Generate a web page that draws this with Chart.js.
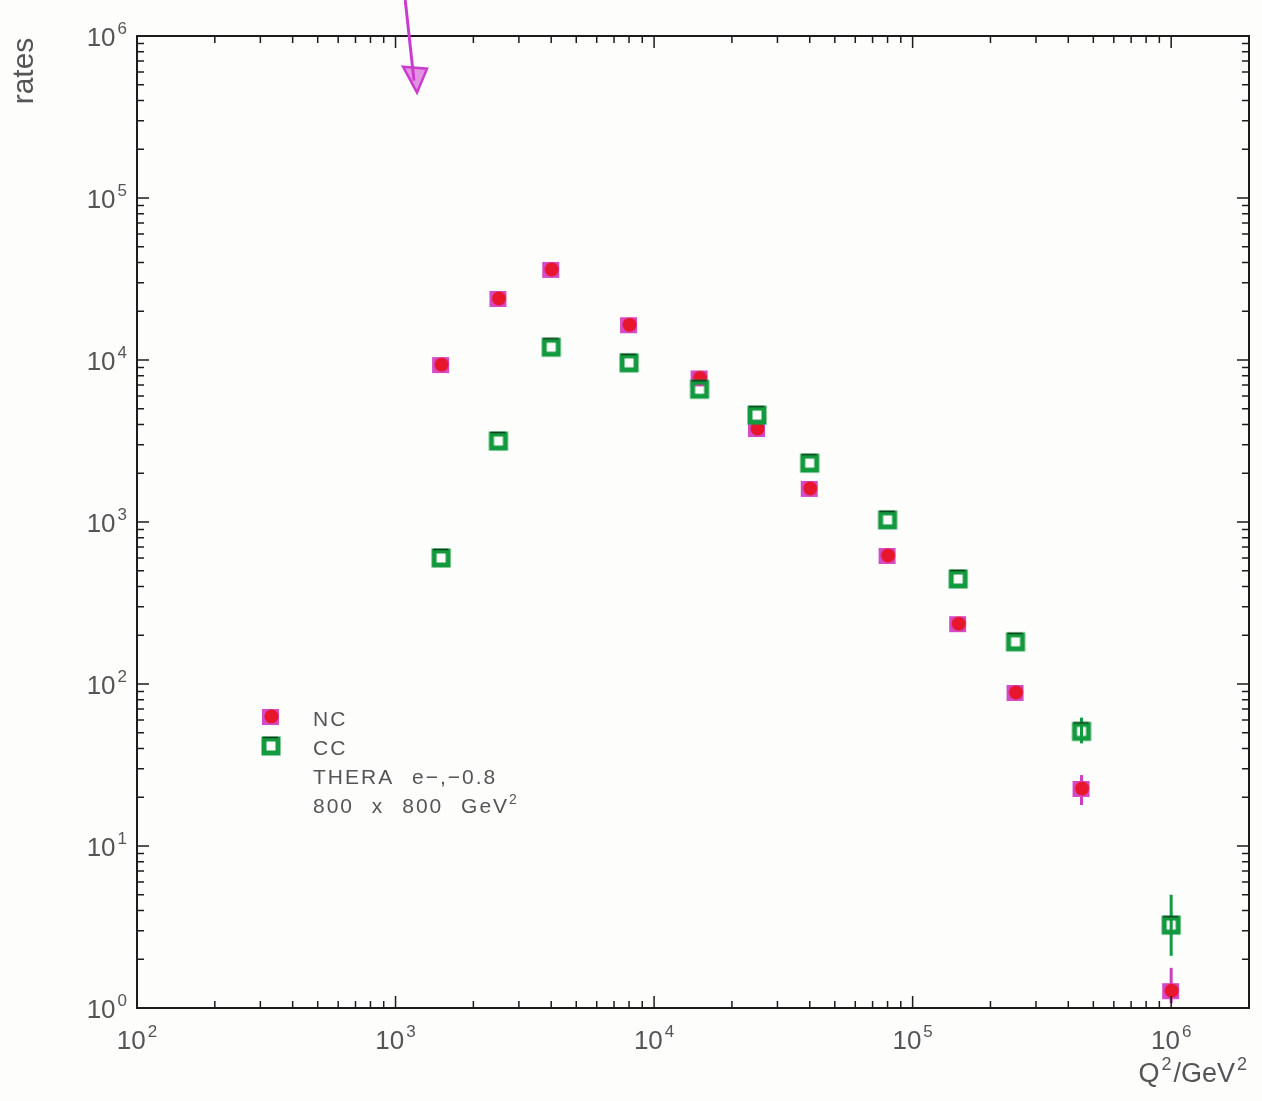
<!DOCTYPE html>
<html>
<head>
<meta charset="utf-8">
<script src="https://cdn.jsdelivr.net/npm/chart.js@4.4.0/dist/chart.umd.min.js"></script>
<style>
  html, body { margin: 0; padding: 0; background: #fdfdfc; }
  canvas { display: block; }
</style>
</head>
<body>
<canvas id="ratesChart" width="1262" height="1101"></canvas>
<script>
// Q^2 bins (GeV^2) and event rates
const q2 = [1500, 2500, 4000, 8000, 15000, 25000, 40000, 80000, 150000, 250000, 450000, 1000000];
const ncRates = [9300, 23800, 36000, 16400, 7700, 3750, 1600, 617, 234, 88, 22.5, 1.27];
const ccRates = [600, 3160, 12000, 9600, 6600, 4570, 2310, 1030, 445, 182, 51, 3.25];

// error bars (only the last points show them)
const ncErrLow  = [null, null, null, null, null, null, null, null, null, null, 17.9, 1.07];
const ncErrHigh = [null, null, null, null, null, null, null, null, null, null, 27.4, 1.77];
const ccErrLow  = [null, null, null, null, null, null, null, null, null, null, 43, 2.1];
const ccErrHigh = [null, null, null, null, null, null, null, null, null, null, 62, 5.0];

// axis decades (exponents of ten)
const xDecades = [2, 3, 4, 5, 6];
const yDecades = [0, 1, 2, 3, 4, 5, 6];

const legendLines = ['NC', 'CC', 'THERA e\u2212,\u22120.8', '800 x 800 GeV'];

const textColor = '#555';
const fontName = '"Liberation Sans", Arial, sans-serif';

// hand-drawn-ish markers as little canvases
function makeNcMarker() {
    const c = document.createElement('canvas');
    c.width = 22; c.height = 22;
    const g = c.getContext('2d');
    g.fillStyle = '#d64ac6';
    g.fillRect(2, 3, 17, 16);
    g.fillStyle = '#e8162c';
    g.beginPath();
    g.arc(11.5, 10.5, 7, 0, Math.PI * 2);
    g.fill();
    return c;
}
function makeCcMarker() {
    const c = document.createElement('canvas');
    c.width = 24; c.height = 24;
    const g = c.getContext('2d');
    g.strokeStyle = '#139a3e';
    g.lineWidth = 5;
    g.strokeRect(5, 5, 14, 14);
    g.strokeStyle = '#0b3f1c';
    g.lineWidth = 1.5;
    g.beginPath();
    g.moveTo(4, 3.5); g.lineTo(19, 3.5);
    g.stroke();
    return c;
}
const ncMarker = makeNcMarker();
const ccMarker = makeCcMarker();

function toPoints(xs, ys) {
    return xs.map((x, i) => ({ x: x, y: ys[i] }));
}

// draws "10" with a raised exponent
function drawPower(ctx, exp, x, baseline, align) {
    ctx.font = '26px ' + fontName;
    const wBase = ctx.measureText('10').width;
    ctx.font = '17px ' + fontName;
    const wExp = ctx.measureText(String(exp)).width;
    const total = wBase + 2 + wExp;
    let left = x;
    if (align === 'center') left = x - total / 2;
    if (align === 'right') left = x - total;
    ctx.textAlign = 'left';
    ctx.textBaseline = 'alphabetic';
    ctx.fillStyle = textColor;
    ctx.font = '26px ' + fontName;
    ctx.fillText('10', left, baseline);
    ctx.font = '17px ' + fontName;
    ctx.fillText(String(exp), left + wBase + 2, baseline - 12);
}

const framePlugin = {
    id: 'frame',
    beforeDatasetsDraw(chart) {
        const ctx = chart.ctx;
        const xs = chart.scales.x, ys = chart.scales.y;
        ctx.save();
        const bars = [
            [ncErrLow, ncErrHigh, '#cc3fc0'],
            [ccErrLow, ccErrHigh, '#149a3e']
        ];
        bars.forEach(([lo, hi, col]) => {
            q2.forEach((q, i) => {
                if (lo[i] == null) return;
                const px = xs.getPixelForValue(q);
                ctx.strokeStyle = col;
                ctx.lineWidth = 3;
                ctx.beginPath();
                ctx.moveTo(px, ys.getPixelForValue(lo[i]));
                ctx.lineTo(px, ys.getPixelForValue(hi[i]));
                ctx.stroke();
            });
        });
        ctx.restore();
    },
    afterDraw(chart) {
        const ctx = chart.ctx;
        const a = chart.chartArea;
        const xs = chart.scales.x, ys = chart.scales.y;
        ctx.save();

        // frame
        ctx.strokeStyle = '#1c1c1c';
        ctx.lineWidth = 2;
        ctx.strokeRect(a.left, a.top, a.right - a.left, a.bottom - a.top);

        // inward ticks on all four sides
        ctx.lineWidth = 1.5;
        const major = 12, minor = 7;
        xDecades.forEach(e => {
            for (let m = 1; m <= 9; m++) {
                const v = m * Math.pow(10, e);
                if (v > xs.max) break;
                const px = xs.getPixelForValue(v);
                const len = m === 1 ? major : minor;
                ctx.beginPath();
                ctx.moveTo(px, a.bottom); ctx.lineTo(px, a.bottom - len);
                ctx.moveTo(px, a.top); ctx.lineTo(px, a.top + len);
                ctx.stroke();
            }
        });
        yDecades.forEach(e => {
            for (let m = 1; m <= 9; m++) {
                const v = m * Math.pow(10, e);
                if (v > ys.max) break;
                const py = ys.getPixelForValue(v);
                const len = m === 1 ? major : minor;
                ctx.beginPath();
                ctx.moveTo(a.left, py); ctx.lineTo(a.left + len, py);
                ctx.moveTo(a.right, py); ctx.lineTo(a.right - len, py);
                ctx.stroke();
            }
        });

        // tick labels
        xDecades.forEach(e => {
            drawPower(ctx, e, xs.getPixelForValue(Math.pow(10, e)), a.bottom + 41, 'center');
        });
        yDecades.forEach(e => {
            drawPower(ctx, e, a.left - 10, ys.getPixelForValue(Math.pow(10, e)) + 10, 'right');
        });

        // axis titles
        ctx.fillStyle = textColor;
        ctx.font = '30px ' + fontName;
        ctx.save();
        ctx.translate(33, a.top + 35);
        ctx.rotate(-Math.PI / 2);
        ctx.textAlign = 'center';
        ctx.textBaseline = 'alphabetic';
        ctx.fillText('rates', 0, 0);
        ctx.restore();

        const big = '27px ' + fontName, small = '18px ' + fontName;
        const parts = [['Q', big, 0], ['2', small, -12], ['/GeV', big, 0], ['2', small, -12]];
        let total = 0;
        parts.forEach(p => { ctx.font = p[1]; total += ctx.measureText(p[0]).width + 2; });
        let tx = a.right - total;
        ctx.textAlign = 'left';
        parts.forEach(p => {
            ctx.font = p[1];
            ctx.fillText(p[0], tx, a.bottom + 74 + p[2]);
            tx += ctx.measureText(p[0]).width + 2;
        });

        // legend inside the frame
        const lx = a.left + 134, ly = a.top + 681, step = 29;
        ctx.drawImage(ncMarker, lx - 11, ly - 11);
        ctx.drawImage(ccMarker, lx - 12, ly + step - 12);
        ctx.font = '21px ' + fontName;
        ctx.letterSpacing = '2px';
        ctx.wordSpacing = '10px';
        legendLines.forEach((t, i) => {
            ctx.fillText(t, a.left + 176, ly + 9 + i * step);
        });
        const lastW = ctx.measureText(legendLines[3]).width;
        ctx.font = '14px ' + fontName;
        ctx.letterSpacing = '0px';
        ctx.fillText('2', a.left + 176 + lastW, ly + 9 + 3 * step - 9);

        // the magenta pen arrow on top
        const tipX = xs.getPixelForValue(1200), tipY = ys.getPixelForValue(460000);
        const tailX = xs.getPixelForValue(1090);
        ctx.strokeStyle = '#cc3ccc';
        ctx.fillStyle = 'rgba(204, 60, 204, 0.55)';
        ctx.lineWidth = 3;
        ctx.beginPath();
        ctx.moveTo(tailX, 0);
        ctx.lineTo(tipX - 2, tipY - 10);
        ctx.stroke();
        ctx.lineWidth = 2.5;
        ctx.beginPath();
        ctx.moveTo(tipX - 13, tipY - 24);
        ctx.lineTo(tipX + 11, tipY - 22);
        ctx.lineTo(tipX + 1, tipY + 2);
        ctx.closePath();
        ctx.fill();
        ctx.stroke();

        ctx.restore();
    }
};

const ctx = document.getElementById('ratesChart').getContext('2d');
const ratesChart = new Chart(ctx, {
    type: 'scatter',
    data: {
        datasets: [
            {
                label: 'CC',
                data: toPoints(q2, ccRates),
                pointStyle: ccMarker,
                pointRadius: 11
            },
            {
                label: 'NC',
                data: toPoints(q2, ncRates),
                pointStyle: ncMarker,
                pointRadius: 11
            }
        ]
    },
    options: {
        responsive: false,
        animation: false,
        devicePixelRatio: 1,
        layout: { padding: { left: 137, right: 13, top: 36, bottom: 93 } },
        scales: {
            x: { type: 'logarithmic', min: 100, max: 2000000, display: false },
            y: { type: 'logarithmic', min: 1, max: 1000000, display: false }
        },
        plugins: {
            legend: { display: false },
            tooltip: { enabled: false }
        }
    },
    plugins: [framePlugin]
});
</script>
</body>
</html>
